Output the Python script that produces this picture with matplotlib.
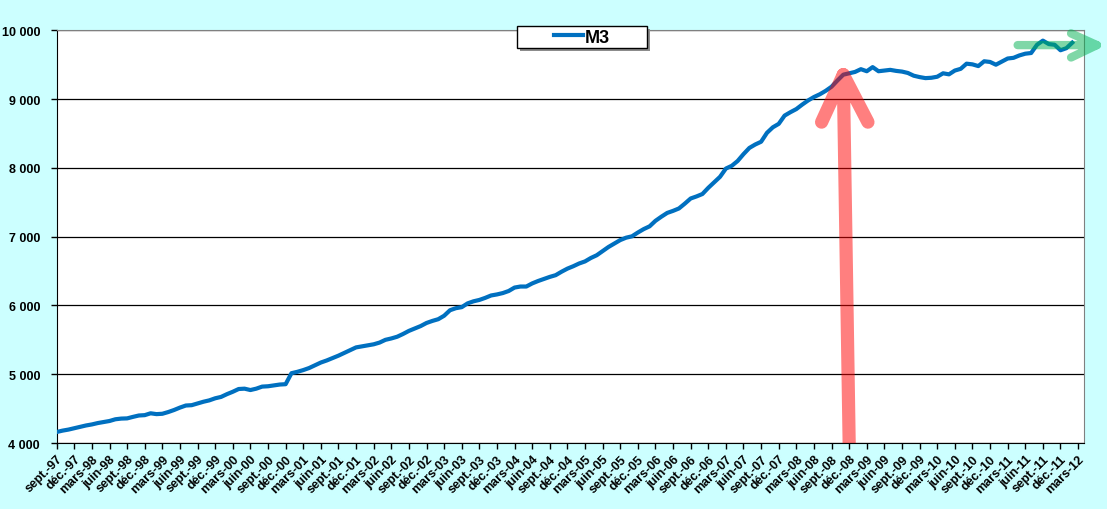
import pandas as pd
import matplotlib
matplotlib.use("Agg")
import matplotlib.pyplot as plt
from matplotlib.path import Path
from matplotlib.patches import PathPatch, Rectangle
from matplotlib.ticker import FuncFormatter

plt.rcParams['font.family'] = ['Liberation Sans', 'DejaVu Sans']

# monthly M3, starting sept. 1997
start = "1997-09-01"
m3 = [
    4160, 4180, 4195, 4215, 4235, 4255, 4270, 4290, 4305, 4320, 4345, 4355,
    4358, 4380, 4400, 4405, 4432, 4420, 4425, 4450, 4480, 4515, 4545, 4550,
    4575, 4600, 4620, 4650, 4670, 4710, 4745, 4785, 4790, 4770, 4790, 4820,
    4825, 4838, 4850, 4855, 5015, 5035, 5060, 5090, 5130, 5170, 5200, 5235,
    5270, 5310, 5350, 5390, 5405, 5420, 5435, 5460, 5500, 5520, 5545, 5585,
    5630, 5665, 5700, 5745, 5775, 5800, 5850, 5930, 5960, 5975, 6030, 6060,
    6080, 6110, 6145, 6160, 6180, 6210, 6260, 6275, 6275, 6320, 6355, 6385,
    6415, 6440, 6490, 6535, 6570, 6610, 6640, 6690, 6730, 6790, 6850, 6900,
    6950, 6985, 7005, 7060, 7110, 7150, 7230, 7290, 7345, 7375, 7410, 7480,
    7555, 7585, 7620, 7710, 7790, 7870, 7990, 8030, 8100, 8200, 8290, 8340,
    8380, 8510, 8590, 8640, 8760, 8810, 8855, 8920, 8980, 9030, 9070, 9120,
    9180, 9270, 9355, 9375, 9395, 9435, 9405, 9465, 9405, 9415, 9425, 9410,
    9400, 9380, 9340, 9320, 9305, 9310, 9325, 9375, 9360, 9415, 9440, 9515,
    9505, 9480, 9550, 9540, 9500, 9545, 9590, 9600, 9635, 9660, 9670, 9790,
    9850, 9800, 9790, 9710, 9740, 9820,
]
tick_end = "2012-03-01"
mois = {3: "mars", 6: "juin", 9: "sept.", 12: "déc."}
peak_month = "2008-11-01"

months = pd.date_range(start, periods=len(m3), freq="MS")
x = list(range(len(m3)))
tick_dates = pd.date_range(start, tick_end, freq="3MS")
t0 = pd.Timestamp(start)
tick_pos = [(d.year - t0.year) * 12 + d.month - t0.month for d in tick_dates]
tick_lbl = [f"{mois[d.month]}-{d.year % 100:02d}" for d in tick_dates]

fig = plt.figure(figsize=(11.07, 5.10), dpi=100, facecolor="#CCFFFF")
ax = fig.add_axes([0.0512, 0.1294, 0.9280, 0.8092])
ax.set_facecolor("white")

ax.plot(x, m3, color="#0070C0", lw=3, solid_joinstyle="round", zorder=3)

ax.set_xlim(0, tick_pos[-1] + 1)
ax.set_ylim(4000, 10000)
ax.set_yticks(range(4000, 10001, 1000))
ax.yaxis.set_major_formatter(FuncFormatter(lambda v, p: f"{v:,.0f}".replace(",", " ")))
ax.grid(axis="y", color="black", lw=0.9, zorder=1)
ax.set_axisbelow(True)
ax.set_xticks(tick_pos)
ax.set_xticklabels(tick_lbl, rotation=45, ha="right", rotation_mode="anchor")
ax.tick_params(axis="both", length=4, width=1, color="black", labelsize=9)
ax.tick_params(axis="y", pad=8)
ax.tick_params(axis="x", pad=3)
for lab in ax.get_xticklabels() + ax.get_yticklabels():
    lab.set_fontweight("bold")

for side in ["top", "right"]:
    ax.spines[side].set_color("#808080")
for side in ["left", "bottom"]:
    ax.spines[side].set_color("black")

# red arrow pointing at the crisis peak
pk = months.get_loc(pd.Timestamp(peak_month))
tip = (pk, m3[pk])
red = Path([(pk + 1, 4000), tip, (pk - 3.7, tip[1] - 690), tip, (pk + 4.2, tip[1] - 690)],
           [Path.MOVETO, Path.LINETO, Path.MOVETO, Path.LINETO, Path.LINETO])
ax.add_patch(PathPatch(red, fill=False, edgecolor="red", alpha=0.5, lw=9.5,
                       capstyle="round", joinstyle="round", zorder=5))

# green arrow at the end
gy = 9785
gt = (tick_pos[-1] + 3.2, gy)
green = Path([(163.7, gy), gt, (gt[0] - 4.4, gy + 170), gt, (gt[0] - 4.4, gy - 180)],
             [Path.MOVETO, Path.LINETO, Path.MOVETO, Path.LINETO, Path.LINETO])
ax.add_patch(PathPatch(green, fill=False, edgecolor="#00B050", alpha=0.5, lw=6,
                       capstyle="round", joinstyle="round", zorder=5, clip_on=False))

# legend box with shadow
bx, by, bw, bh = 0.4673, 0.9033, 0.1169, 0.0443
fig.patches.append(Rectangle((bx + 0.0027, by - 0.006), bw, bh, transform=fig.transFigure,
                             facecolor="#8C8C8C", edgecolor="none", zorder=8))
fig.patches.append(Rectangle((bx, by), bw, bh, transform=fig.transFigure,
                             facecolor="white", edgecolor="black", lw=1, zorder=9))
leg = fig.legend(["M3"], loc="center", bbox_to_anchor=(bx + bw / 2, by + bh / 2),
                 frameon=False, handlelength=1.6, handletextpad=0.1,
                 prop={"weight": "bold", "size": 13})
leg.set_zorder(10)

fig.savefig("out.png", dpi=100, facecolor=fig.get_facecolor())
